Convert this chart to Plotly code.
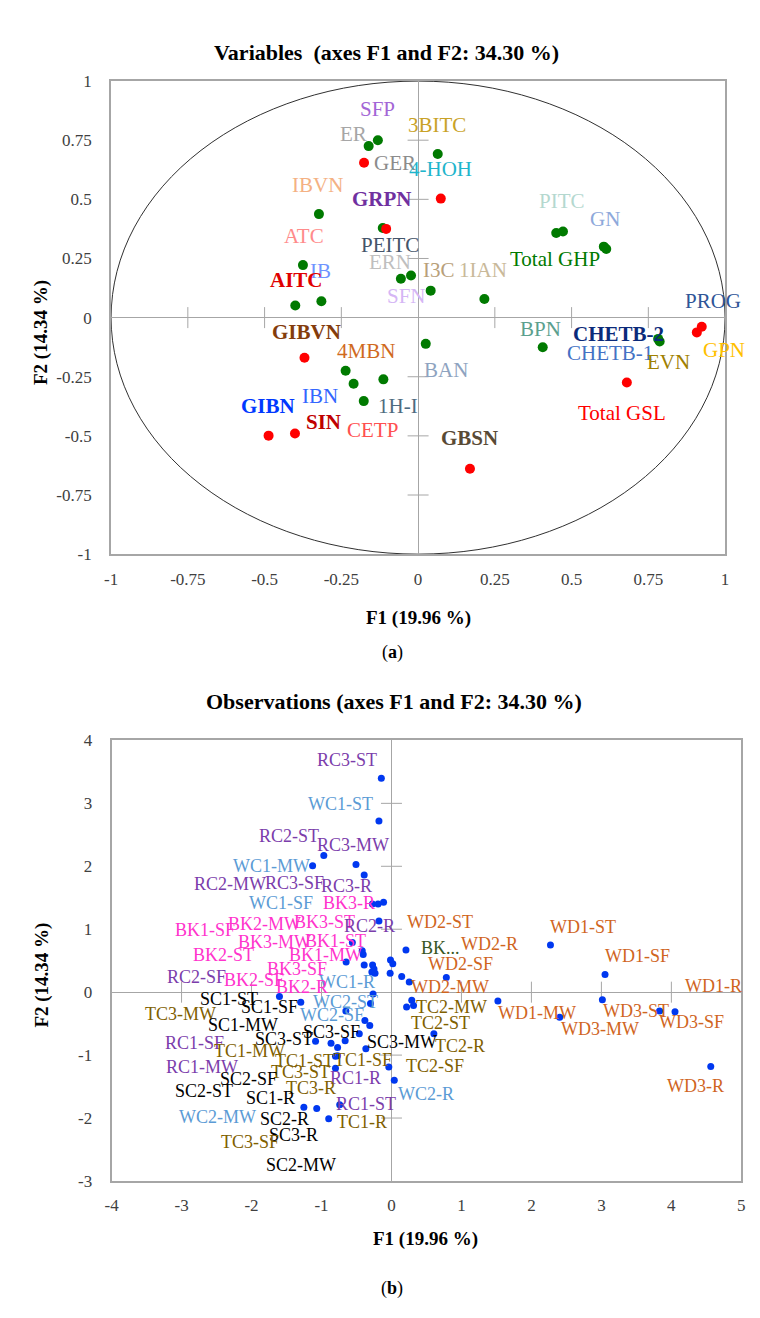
import plotly.graph_objects as go

W, H = 760, 1318

# ---------------- (a) Variables ----------------
green_f1 = [-0.131, -0.161, -0.323, -0.115, -0.375, -0.056, -0.023, -0.400, -0.315, 0.064,
            0.450, 0.472, 0.605, 0.613, 0.041, 0.216, 0.025, 0.406, 0.782, 0.787,
            -0.236, -0.210, -0.113, -0.177]
green_f2 = [0.750, 0.725, 0.4375, 0.379, 0.222, 0.164, 0.178, 0.051, 0.069, 0.692,
            0.358, 0.364, 0.300, 0.290, 0.114, 0.079, -0.111, -0.125, -0.090, -0.101,
            -0.225, -0.280, -0.261, -0.353]
red_f1 = [-0.176, -0.104, 0.074, 0.908, 0.924, 0.680, 0.169, -0.370, -0.487, -0.401]
red_f2 = [0.655, 0.375, 0.503, -0.0625, -0.039, -0.274, -0.639, -0.170, -0.499, -0.490]

var_labels = ["SFP", "ER", "GER", "IBVN", "GRPN", "ATC", "PEITC", "ERN", "IB", "AITC", "SFN",
              "3BITC", "4-HOH", "PITC", "GN", "Total GHP", "I3C", "1IAN", "PROG",
              "BPN", "CHETB-2", "CHETB-1", "GPN", "EVN", "BAN", "Total GSL", "GBSN",
              "GIBVN", "4MBN", "IBN", "GIBN", "1H-I", "SIN", "CETP"]
var_label_f1 = [-0.131, -0.211, -0.074, -0.326, -0.117, -0.373, -0.091, -0.091, -0.318, -0.395, -0.039,
                0.062, 0.073, 0.469, 0.608, 0.447, 0.067, 0.212, 0.961,
                0.399, 0.653, 0.626, 0.998, 0.816, 0.091, 0.665, 0.169,
                -0.364, -0.171, -0.320, -0.489, -0.066, -0.309, -0.149]
var_label_f2 = [0.882, 0.778, 0.653, 0.5625, 0.500, 0.343, 0.305, 0.236, 0.197, 0.157, 0.090,
                0.815, 0.629, 0.493, 0.417, 0.246, 0.201, 0.201, 0.072,
                -0.049, -0.070, -0.150, -0.135, -0.1875, -0.222, -0.403, -0.511,
                -0.060, -0.143, -0.330, -0.375, -0.375, -0.442, -0.476]
var_label_colors = ["#A366D6", "#A6A6A6", "#8C8C8C", "#F4B183", "#7030A0", "#FF8B8B", "#44546A",
                    "#BFBFBF", "#6F94FF", "#E00000", "#D5B6F5",
                    "#C9A227", "#1FB5CC", "#B4D8CF", "#8EA9DB", "#007A00", "#B8A07A", "#C9B99A",
                    "#2F5597", "#5BA08E", "#0B2A7A", "#4472C4", "#FFC000", "#A08000", "#8EA3C0",
                    "#FF0000", "#594A35", "#843C0C", "#D06A1E", "#3366FF", "#0038FF", "#4E6B80",
                    "#C00000", "#FF5050"]
var_label_bold = ["GRPN", "AITC", "CHETB-2", "GBSN", "GIBVN", "GIBN", "SIN"]

# ---------------- (b) Observations ----------------
obs_f1 = [-0.145, -0.179, -0.967, -0.507, -1.127, -0.390, -0.272, -0.192, -0.113, -0.179,
          -0.559, -0.418, -0.404, -0.648, -0.390, -0.27, -0.25, -0.235, -0.28, -0.014,
          0.019, -0.019, 0.207, 0.146, 0.254, -0.263, -1.601, -1.296, -0.30, -0.652,
          -0.38, -0.31, -0.46, -0.662, -1.085, -0.864, -0.770, -0.366, -0.80, -0.77,
          -0.038, -0.80, 0.04, 0.784, 2.272, 3.052, 1.521, 3.014, 2.404, 3.831,
          4.052, 4.563, 0.216, 0.29, 0.315, 0.606, -1.252, -1.068, -0.74, -0.897]
obs_f2 = [3.40, 2.72, 2.17, 2.03, 2.01, 1.86, 1.40, 1.40, 1.43, 1.13,
          0.79, 0.66, 0.60, 0.48, 0.43, 0.43, 0.37, 0.30, 0.32, 0.51,
          0.45, 0.30, 0.67, 0.25, 0.16, -0.03, -0.07, -0.16, -0.18, -0.30,
          -0.45, -0.53, -0.66, -0.77, -0.78, -0.81, -0.88, -0.90, -1.02, -1.01,
          -1.19, -1.21, -1.40, 0.235, 0.75, 0.28, -0.14, -0.12, -0.40, -0.30,
          -0.31, -1.18, -0.235, -0.13, -0.21, -0.66, -1.83, -1.85, -1.79, -2.01]

obs_labels = ["RC3-ST", "WC1-ST", "RC2-ST", "RC3-MW", "WC1-MW", "RC2-MW", "RC3-SF", "RC3-R",
              "WC1-SF", "BK3-R", "BK1-SF", "BK2-MW", "BK3-ST", "RC2-R", "BK3-MW", "BK1-ST",
              "BK2-ST", "BK1-MW", "BK3-SF", "RC2-SF", "BK2-SF", "WC1-R", "BK2-R", "SC1-ST",
              "SC1-SF", "WC2-ST", "TC3-MW", "WC2-SF", "SC1-MW", "SC3-SF", "SC3-ST", "SC3-MW",
              "RC1-SF", "TC1-MW", "TC1-ST", "TC1-SF", "RC1-MW", "TC3-ST", "SC2-SF", "RC1-R",
              "TC3-R", "SC2-ST", "SC1-R", "WC2-R", "RC1-ST", "WC2-MW", "SC2-R", "TC1-R",
              "SC3-R", "TC3-SF", "SC2-MW", "WD2-ST", "WD1-ST", "BK...", "WD2-R", "WD1-SF",
              "WD2-SF", "WD2-MW", "WD1-R", "TC2-MW", "WD1-MW", "WD3-ST", "TC2-ST", "WD3-SF",
              "WD3-MW", "TC2-R", "TC2-SF", "WD3-R"]
obs_label_f1 = [-0.638, -0.732, -1.461, -0.545, -1.718, -2.314, -1.390, -0.638,
                -1.577, -0.601, -2.658, -1.821, -0.958, -0.320, -1.672, -0.803,
                -2.399, -0.944, -1.352, -2.789, -1.962, -0.638, -1.272, -2.328,
                -1.742, -0.662, -3.010, -0.849, -2.117, -0.863, -1.531, 0.151,
                -2.821, -2.024, -1.249, -0.404, -2.704, -1.296, -2.042, -0.521,
                -1.149, -2.685, -1.730, 0.489, -0.365, -2.480, -1.525, -0.423,
                -1.394, -2.028, -1.296, 0.700, 2.742, 0.700, 1.404, 3.517,
                0.982, 0.831, 4.596, 0.863, 2.075, 3.493, 0.700, 4.292,
                2.976, 0.982, 0.615, 4.344]
obs_label_f2 = [3.686, 2.991, 2.483, 2.342, 1.997, 1.715, 1.736, 1.683,
                1.423, 1.423, 0.984, 1.082, 1.109, 1.056, 0.800, 0.811,
                0.591, 0.591, 0.365, 0.246, 0.199, 0.168, 0.089, -0.115,
                -0.235, -0.157, -0.350, -0.365, -0.522, -0.627, -0.742, -0.784,
                -0.811, -0.941, -1.087, -1.071, -1.192, -1.271, -1.373, -1.357,
                -1.517, -1.569, -1.674, -1.620, -1.777, -1.987, -2.013, -2.07,
                -2.27, -2.38, -2.745, 1.114, 1.031, 0.706, 0.773, 0.576,
                0.444, 0.078, 0.105, -0.235, -0.325, -0.303, -0.497, -0.482,
                -0.585, -0.863, -1.176, -1.490]

group_colors = {"RC": "#7B3DAB", "WC": "#5B9BD5", "BK": "#FF33CC", "SC": "#000000",
                "TC": "#806000", "WD": "#D0651E"}

fig = go.Figure()

fig.add_shape(type="circle", xref="x", yref="y", x0=-1, y0=-1, x1=1, y1=1,
              line=dict(color="#303030", width=1), layer="below")

axis_gray = "#A6A6A6"

ticks_a = [-0.75, -0.5, -0.25, 0.25, 0.5, 0.75]
fig.add_trace(go.Scatter(x=ticks_a, y=[0] * len(ticks_a), mode="markers", xaxis="x", yaxis="y",
                         marker=dict(symbol="line-ns", size=15, line=dict(width=1, color=axis_gray)),
                         hoverinfo="skip", showlegend=False))
fig.add_trace(go.Scatter(x=[0] * len(ticks_a), y=ticks_a, mode="markers", xaxis="x", yaxis="y",
                         marker=dict(symbol="line-ew", size=15, line=dict(width=1, color=axis_gray)),
                         hoverinfo="skip", showlegend=False))

fig.add_trace(go.Scatter(x=green_f1, y=green_f2, mode="markers", xaxis="x", yaxis="y",
                         marker=dict(color="#007A00", size=10), showlegend=False))
fig.add_trace(go.Scatter(x=red_f1, y=red_f2, mode="markers", xaxis="x", yaxis="y",
                         marker=dict(color="#FF0000", size=10), showlegend=False))

ticks_bx = [-3, -2, -1, 1, 2, 3, 4]
ticks_by = [-2, -1, 1, 2, 3]
fig.add_trace(go.Scatter(x=ticks_bx, y=[0] * len(ticks_bx), mode="markers", xaxis="x2", yaxis="y2",
                         marker=dict(symbol="line-ns", size=15, line=dict(width=1, color=axis_gray)),
                         hoverinfo="skip", showlegend=False))
fig.add_trace(go.Scatter(x=[0] * len(ticks_by), y=ticks_by, mode="markers", xaxis="x2", yaxis="y2",
                         marker=dict(symbol="line-ew", size=15, line=dict(width=1, color=axis_gray)),
                         hoverinfo="skip", showlegend=False))

fig.add_trace(go.Scatter(x=obs_f1, y=obs_f2, mode="markers", xaxis="x2", yaxis="y2",
                         marker=dict(color="#0038F0", size=7), showlegend=False))

annotations = []
LFONT = "Liberation Serif"
for t, lx, ly, c in zip(var_labels, var_label_f1, var_label_f2, var_label_colors):
    text = f"<b>{t}</b>" if t in var_label_bold else t
    annotations.append(dict(x=lx, y=ly, xref="x", yref="y", text=text, showarrow=False,
                            xanchor="center", yanchor="middle",
                            font=dict(family=LFONT, size=21, color=c)))
for t, lx, ly in zip(obs_labels, obs_label_f1, obs_label_f2):
    c = "#375623" if t == "BK..." else group_colors[t[:2]]
    annotations.append(dict(x=lx, y=ly, xref="x2", yref="y2", text=t, showarrow=False,
                            xanchor="center", yanchor="middle",
                            font=dict(family=LFONT, size=18, color=c)))


def P(px, py):
    return px / W, 1 - py / H


def txt(px, py, text, size, angle=0):
    x, y = P(px, py)
    annotations.append(dict(x=x, y=y, xref="paper", yref="paper", text=text, showarrow=False,
                            xanchor="center", yanchor="middle", textangle=angle,
                            font=dict(family=LFONT, size=size, color="#000000")))


txt(377, 36, "<b>Variables  (axes F1 and F2: 34.30 %)</b>", 22)
txt(409, 610, "<b>F1 (19.96 %)</b>", 19)
txt(383, 645, "(<b>a</b>)", 18)
txt(385, 695, "<b>Observations (axes F1 and F2: 34.30 %)</b>", 22)
txt(417, 1240, "<b>F1 (19.96 %)</b>", 19)
txt(383, 1290, "(<b>b</b>)", 18)
txt(27, 320, "<b>F2 (14.34 %)</b>", 19, -90)
txt(27, 972, "<b>F2 (14.34 %)</b>", 19, -90)

tickfont = dict(family=LFONT, size=17, color="#404040")
ta = [-1, -0.75, -0.5, -0.25, 0, 0.25, 0.5, 0.75, 1]
ta_text = ["-1", "-0.75", "-0.5", "-0.25", "0", "0.25", "0.5", "0.75", "1"]
tbx = list(range(-4, 6))
tby = list(range(-3, 5))

common = dict(showgrid=False, showline=True, linecolor=axis_gray, linewidth=2, mirror=True,
              zeroline=True, zerolinecolor=axis_gray, zerolinewidth=1, ticks="",
              tickfont=tickfont, fixedrange=True)

fig.update_layout(
    width=W, height=H, margin=dict(l=0, r=0, t=0, b=0),
    paper_bgcolor="white", plot_bgcolor="white", showlegend=False,
    xaxis=dict(domain=[97.5 / W, 720.5 / W], range=[-1, 1], anchor="y",
               tickvals=ta, ticktext=ta_text, ticklabelstandoff=8, **common),
    yaxis=dict(domain=[1 - 545 / H, 1 - 65 / H], range=[-1, 1], anchor="x",
               tickvals=ta, ticktext=ta_text, ticklabelstandoff=14, **common),
    xaxis2=dict(domain=[98 / W, 737 / W], range=[-4, 5], anchor="y2",
                tickvals=tbx, ticktext=[str(v) for v in tbx], ticklabelstandoff=8, **common),
    yaxis2=dict(domain=[1 - 1181 / H, 1 - 734 / H], range=[-3, 4], anchor="x2",
                tickvals=tby, ticktext=[str(v) for v in tby], ticklabelstandoff=14, **common),
    annotations=annotations,
)

fig.write_html("out.html")
